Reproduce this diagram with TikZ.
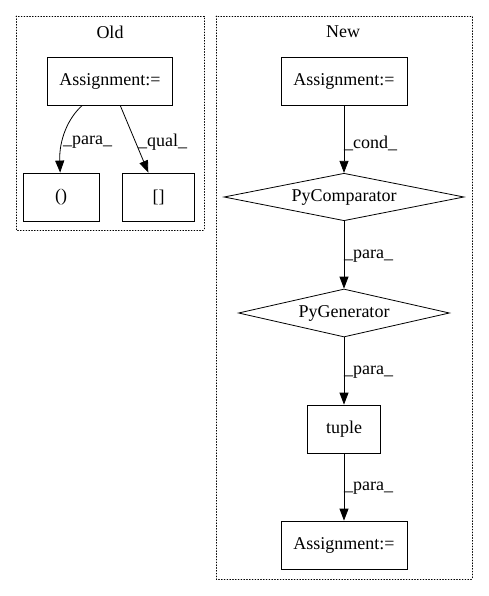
\documentclass[tikz,border=0pt]{standalone}
\usepackage{fontspec}
\setmainfont{Liberation Serif}
\usetikzlibrary{shapes.geometric,arrows.meta}
\begin{document}
\begin{tikzpicture}[x=1pt,y=-1pt,
  every node/.style={font=\fontsize{18}{20}\selectfont},
  box/.style={draw,thick,rectangle,inner sep=0pt},
  dia/.style={draw,thick,diamond,inner sep=0pt,aspect=5},
  cluster/.style={draw,thick,dotted,line cap=round},
  edge/.style={thick,-{Triangle[length=12pt,width=9pt]}},
  lab/.style={inner sep=0pt,anchor=west}]
\useasboundingbox (0,0) rectangle (488,596);
% clusters
\draw[cluster] (16,16) rectangle (204,230);
\node (oldlab) at (110,32) {Old};
\draw[cluster] (216,16) rectangle (472,579);
\node (newlab) at (343,32) {New};
% old nodes
\node[box,minimum width=125pt,minimum height=48pt] (oa) at (110,81) {Assignment:=};
\node[box,minimum width=76pt,minimum height=48pt] (p) at (61,197) {()};
\node[box,minimum width=72pt,minimum height=48pt] (b) at (158.5,197) {[]};
\draw[edge] (oa) .. controls (68,118) and (59,140) .. (p);
\node[lab] (l1) at (63,142) {\_para\_};
\draw[edge] (oa) -- (b);
\node[lab] (l2) at (138,142) {\_qual\_};
% new nodes
\node[box,minimum width=126pt,minimum height=48pt] (na) at (344,81) {Assignment:=};
\node[dia,minimum width=240pt,minimum height=47.5pt] (pc) at (344,197) {PyComparator};
\node[dia,minimum width=211pt,minimum height=48pt] (pg) at (344,313) {PyGenerator};
\node[box,minimum width=73pt,minimum height=48pt] (tu) at (344,429) {tuple};
\node[box,minimum width=126pt,minimum height=48pt] (nb) at (344,545) {Assignment:=};
\draw[edge] (na) -- (pc);
\node[lab] (l3) at (344,143) {\_cond\_};
\draw[edge] (pc) -- (pg);
\node[lab] (l4) at (344,256) {\_para\_};
\draw[edge] (pg) -- (tu);
\node[lab] (l5) at (344,372) {\_para\_};
\draw[edge] (tu) -- (nb);
\node[lab] (l6) at (344,488) {\_para\_};
\end{tikzpicture}
\end{document}
